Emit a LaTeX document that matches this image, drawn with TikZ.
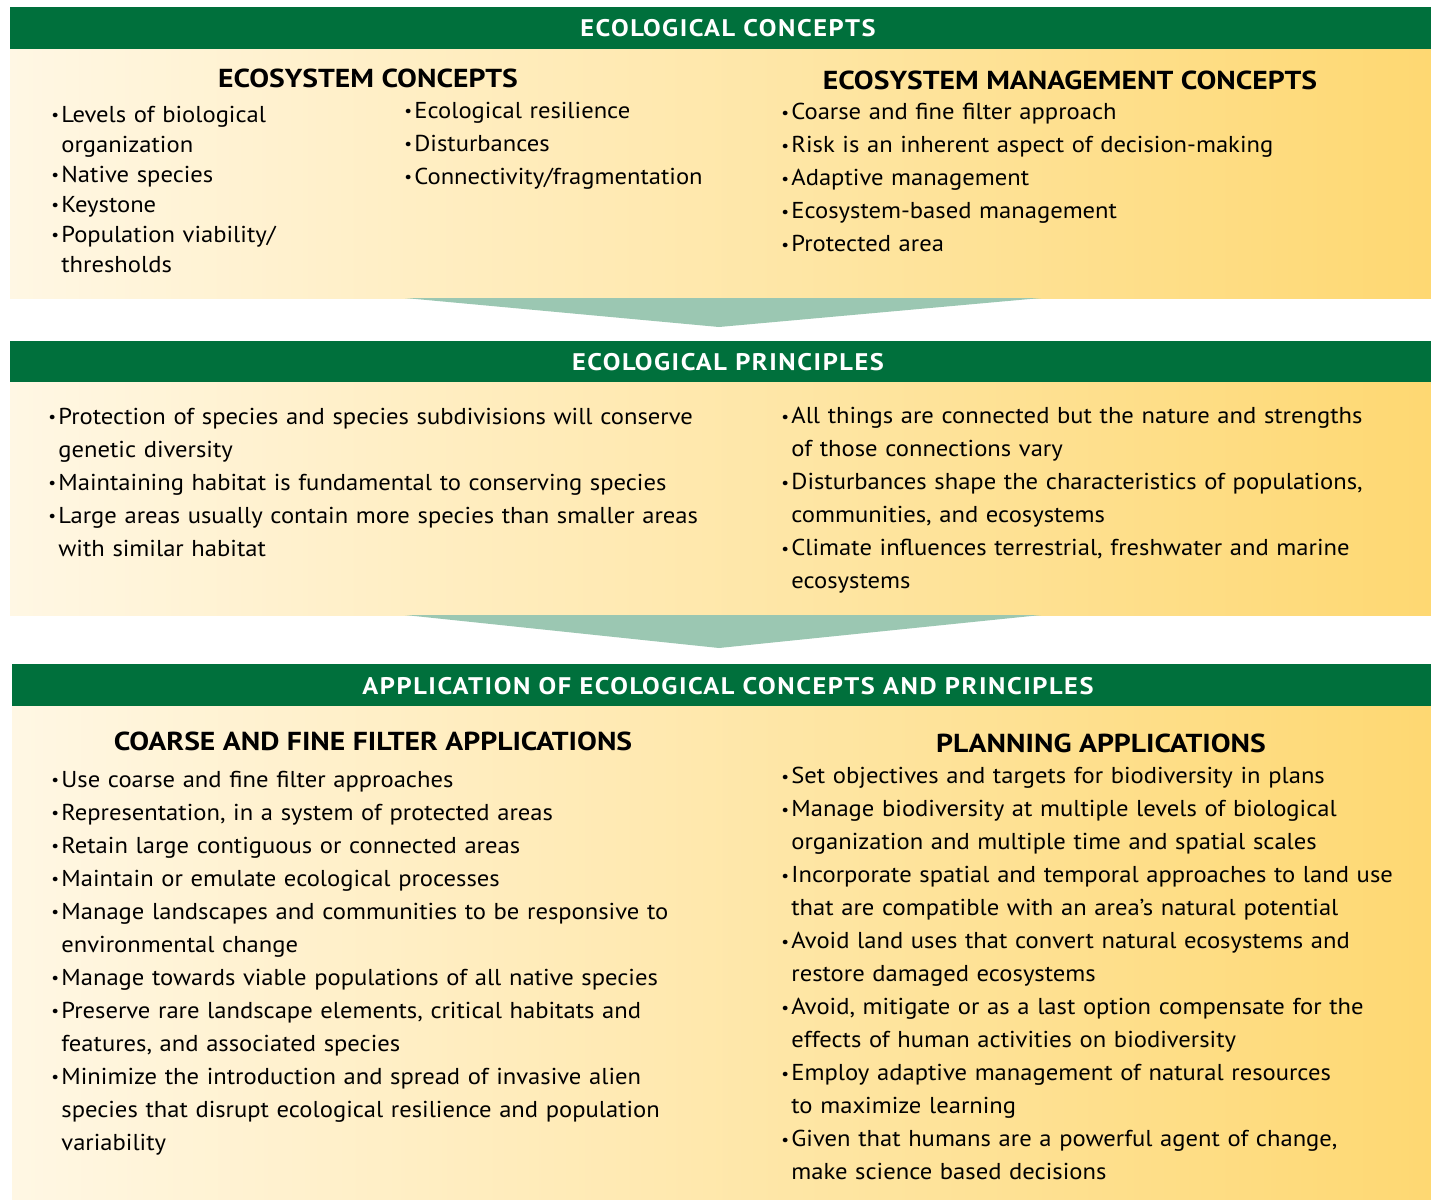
\documentclass[tikz,border=0pt]{standalone}
\usepackage{fontspec}
\setmainfont{PT Sans}[FakeStretch=1.07]
\newfontfamily\barfont{PT Sans Bold}[FakeStretch=1.1, LetterSpace=6.5]
\newfontfamily\headfont{PT Sans Bold}[FakeStretch=1.14]
\usepackage{graphicx}
\usetikzlibrary{positioning}
\definecolor{bargreen}{RGB}{0,112,60}
\definecolor{panelcream}{RGB}{255,247,228}
\definecolor{panelgold}{RGB}{254,216,114}
\definecolor{arrowgreen}{RGB}{155,199,178}
\newcommand{\itm}[1]{\noindent\hangindent=5pt\hangafter=1\makebox[5pt][l]{\raisebox{0.15ex}{\scalebox{0.7}{\textbullet}}}#1\par}
\tikzset{
  bartitle/.style={text=white, inner sep=0pt, font=\barfont\fontsize{12pt}{14pt}\selectfont},
  heading/.style={inner sep=0pt, font=\headfont\fontsize{13pt}{15pt}\selectfont},
  itemlist/.style={anchor=north west, inner sep=0pt, text width=380pt, font=\fontsize{11.5pt}{16.5pt}\selectfont},
  panel/.style={left color=panelcream, right color=panelgold},
}
\begin{document}
\begin{tikzpicture}[x=0.5pt, y=-0.5pt]
\useasboundingbox (0,0) rectangle (1431,1200);
\fill[white] (0,0) rectangle (1431,1200);

% bars and panels
\fill[bargreen] (10,7) rectangle (1431,49);
\shade[panel] (10,49) rectangle (1431,298);
\fill[bargreen] (10,341) rectangle (1431,382);
\shade[panel] (10,382) rectangle (1431,615);
\fill[bargreen] (12,664) rectangle (1431,706);
\shade[panel] (12,706) rectangle (1431,1200);

% arrows between the panels
\coordinate (arr1a) at (405,298);
\coordinate (arr1b) at (1041,298);
\coordinate (arr1c) at (719,327);
\fill[arrowgreen] (arr1a) -- (arr1b) -- (arr1c) -- cycle;
\coordinate (arr2a) at (405,615);
\coordinate (arr2b) at (1041,615);
\coordinate (arr2c) at (719,648);
\fill[arrowgreen] (arr2a) -- (arr2b) -- (arr2c) -- cycle;

% titles
\node[bartitle] (concepts) at (728,28) {ECOLOGICAL CONCEPTS};
\node[bartitle] (principles) at (728,362) {ECOLOGICAL PRINCIPLES};
\node[bartitle] (application) at (728,686) {APPLICATION OF ECOLOGICAL CONCEPTS AND PRINCIPLES};

\node[heading] (ecohead) at (368,78) {ECOSYSTEM CONCEPTS};
\node[heading] (mgmthead) at (1070,80) {ECOSYSTEM MANAGEMENT CONCEPTS};
\node[heading] (filterhead) at (373,741) {COARSE AND FINE FILTER APPLICATIONS};
\node[heading] (planhead) at (1101,743) {PLANNING APPLICATIONS};

% ecological concepts
\node[itemlist, font=\fontsize{11.5pt}{15pt}\selectfont] (ecoleft) at (51,106) {
  \itm{Levels of biological\newline organization}
  \itm{Native species}
  \itm{Keystone}
  \itm{Population viability/\newline thresholds}};
\node[itemlist] (ecomid) at (404,102) {
  \itm{Ecological resilience}
  \itm{Disturbances}
  \itm{Connectivity/fragmentation}};
\node[itemlist] (mgmt) at (781,103) {
  \itm{Coarse and fine filter approach}
  \itm{Risk is an inherent aspect of decision-making}
  \itm{Adaptive management}
  \itm{Ecosystem-based management}
  \itm{Protected area}};

% ecological principles
\node[itemlist] (prinleft) at (48,408) {
  \itm{Protection of species and species subdivisions will conserve\newline genetic diversity}
  \itm{Maintaining habitat is fundamental to conserving species}
  \itm{Large areas usually contain more species than smaller areas\newline with similar habitat}};
\node[itemlist] (prinright) at (781,407) {
  \itm{All things are connected but the nature and strengths\newline of those connections vary}
  \itm{Disturbances shape the characteristics of populations,\newline communities, and ecosystems}
  \itm{Climate influences terrestrial, freshwater and marine\newline ecosystems}};

% applications
\node[itemlist] (filter) at (51,771) {
  \itm{Use coarse and fine filter approaches}
  \itm{Representation, in a system of protected areas}
  \itm{Retain large contiguous or connected areas}
  \itm{Maintain or emulate ecological processes}
  \itm{Manage landscapes and communities to be responsive to\newline environmental change}
  \itm{Manage towards viable populations of all native species}
  \itm{Preserve rare landscape elements, critical habitats and\newline features, and associated species}
  \itm{Minimize the introduction and spread of invasive alien\newline species that disrupt ecological resilience and population\newline variability}};
\node[itemlist] (plan) at (781,767) {
  \itm{Set objectives and targets for biodiversity in plans}
  \itm{Manage biodiversity at multiple levels of biological\newline organization and multiple time and spatial scales}
  \itm{Incorporate spatial and temporal approaches to land use\newline that are compatible with an area’s natural potential}
  \itm{Avoid land uses that convert natural ecosystems and\newline restore damaged ecosystems}
  \itm{Avoid, mitigate or as a last option compensate for the\newline effects of human activities on biodiversity}
  \itm{Employ adaptive management of natural resources\newline to maximize learning}
  \itm{Given that humans are a powerful agent of change,\newline make science based decisions}};
\end{tikzpicture}
\end{document}
